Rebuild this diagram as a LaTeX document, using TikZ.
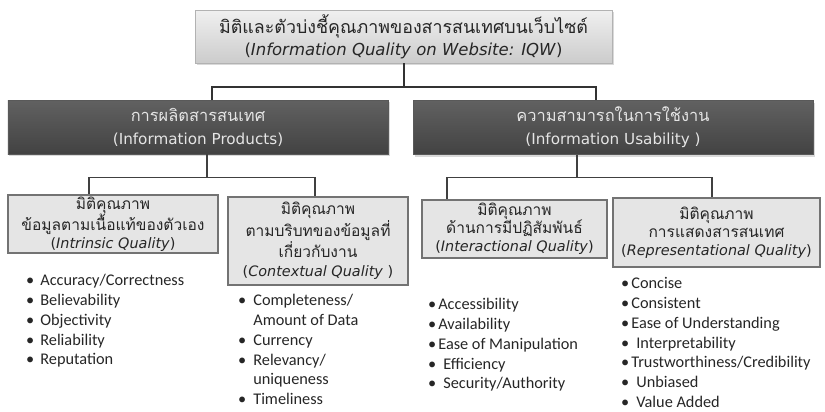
\documentclass[tikz,border=0pt]{standalone}
\usepackage{fontspec}
\setmainfont{Carlito}
\newfontfamily\thaifont[Script=Thai, Scale=1.08]{Loma}
\newfontfamily\tahfont{DejaVu Sans}
\usetikzlibrary{shadows}
\newcommand{\thaitxt}[1]{{\thaifont #1}}
\begin{document}
\begin{tikzpicture}[x=1bp, y=-1bp,
    topbox/.style={draw=black!30, top color=black!6, bottom color=black!20,
      drop shadow={shadow xshift=1.5bp, shadow yshift=-2bp, opacity=.3},
      minimum width=417bp, minimum height=53bp, inner sep=0pt, align=center,
      text=black!85, font=\tahfont\fontsize{16.5bp}{22bp}\selectfont},
    darkbox/.style={draw=black!65, top color=black!62, bottom color=black!74,
      drop shadow={shadow xshift=1.5bp, shadow yshift=-2bp, opacity=.3},
      minimum height=54bp, inner sep=0pt, align=center,
      text=black!10, font=\tahfont\fontsize{15.2bp}{23bp}\selectfont},
    qualbox/.style={draw=black!55, line width=1.2bp, fill=black!10,
      inner sep=0pt, align=center,
      text=black!85, font=\tahfont\fontsize{14.4bp}{17.8bp}\selectfont},
    link/.style={draw=black!80, line width=2bp},
    sublink/.style={draw=black!75, line width=1.3bp},
    items/.style={anchor=north west, inner sep=0pt, text=black!85,
      font=\fontsize{16.3bp}{19.7bp}\selectfont}]
  \useasboundingbox (0,0) rectangle (825,411);

  \node[topbox] (iqw) at (403.5,36.5)
    {\thaitxt{มิติและตัวบ่งชี้คุณภาพของสารสนเทศบนเว็บไซต์}\\
     (\textit{Information Quality on Website: IQW})};

  \node[darkbox, minimum width=380bp] (prod) at (198,127)
    {\thaitxt{การผลิตสารสนเทศ}\\(Information Products)};
  \node[darkbox, minimum width=400bp] (usab) at (613,127.5)
    {\thaitxt{ความสามารถในการใช้งาน}\\(Information Usability )};

  \draw[link] (iqw.south) -- ++(0,24) -| ([xshift=14bp]prod.north);
  \draw[link] (iqw.south) -- ++(0,24) -| ([xshift=-17bp]usab.north);

  \node[qualbox, minimum width=210bp, minimum height=58bp] (intr) at (113,224)
    {\thaitxt{มิติคุณภาพ}\\\thaitxt{ข้อมูลตามเนื้อแท้ของตัวเอง}\\
     (\textit{Intrinsic Quality})};
  \node[qualbox, minimum width=180bp, minimum height=88bp,
        font=\tahfont\fontsize{14.4bp}{19.5bp}\selectfont] (ctxt) at (318,241)
    {\thaitxt{มิติคุณภาพ}\\\thaitxt{ตามบริบทของข้อมูลที่}\\
     \thaitxt{เกี่ยวกับงาน}\\(\textit{Contextual Quality} )};
  \node[qualbox, minimum width=185bp, minimum height=58bp] (inter) at (514.5,229)
    {\thaitxt{มิติคุณภาพ}\\\thaitxt{ด้านการมีปฏิสัมพันธ์}\\
     (\textit{Interactional Quality})};
  \node[qualbox, minimum width=207bp, minimum height=69bp] (repr) at (716.5,232.5)
    {\thaitxt{มิติคุณภาพ}\\\thaitxt{การแสดงสารสนเทศ}\\
     (\textit{Representational Quality})};

  \draw[sublink] ([xshift=9bp]prod.south) -- ++(0,23.5) -| ([xshift=-24bp]intr.north);
  \draw[sublink] ([xshift=9bp]prod.south) -- ++(0,23.5) -| ([xshift=-3bp]ctxt.north);
  \draw[sublink] ([xshift=-36bp]usab.south) -- ++(0,22.5) -| ([xshift=-67.5bp]inter.north);
  \draw[sublink] ([xshift=-36bp]usab.south) -- ++(0,22.5) -| ([xshift=-4.5bp]repr.north);

  \node[items] (intrlist) at (26,272)
    {\begin{tabular}{@{}l@{\hspace{6bp}}l@{}}
      \textbullet & Accuracy/Correctness\\
      \textbullet & Believability\\
      \textbullet & Objectivity\\
      \textbullet & Reliability\\
      \textbullet & Reputation
    \end{tabular}};
  \node[items] (ctxtlist) at (238,292)
    {\begin{tabular}{@{}l@{\hspace{7bp}}l@{}}
      \textbullet & Completeness/\\
                  & Amount of Data\\
      \textbullet & Currency\\
      \textbullet & Relevancy/\\
                  & uniqueness\\
      \textbullet & Timeliness
    \end{tabular}};
  \node[items] (interlist) at (428,296)
    {\begin{tabular}{@{}l@{\hspace{2bp}}l@{}}
      \textbullet & Accessibility\\
      \textbullet & Availability\\
      \textbullet & Ease of Manipulation\\
      \textbullet & \hspace{5bp}Efficiency\\
      \textbullet & \hspace{5bp}Security/Authority
    \end{tabular}};
  \node[items] (reprlist) at (621,275)
    {\begin{tabular}{@{}l@{\hspace{2bp}}l@{}}
      \textbullet & Concise\\
      \textbullet & Consistent\\
      \textbullet & Ease of Understanding\\
      \textbullet & \hspace{5bp}Interpretability\\
      \textbullet & Trustworthiness/Credibility\\
      \textbullet & \hspace{5bp}Unbiased\\
      \textbullet & \hspace{5bp}Value Added
    \end{tabular}};
\end{tikzpicture}
\end{document}
